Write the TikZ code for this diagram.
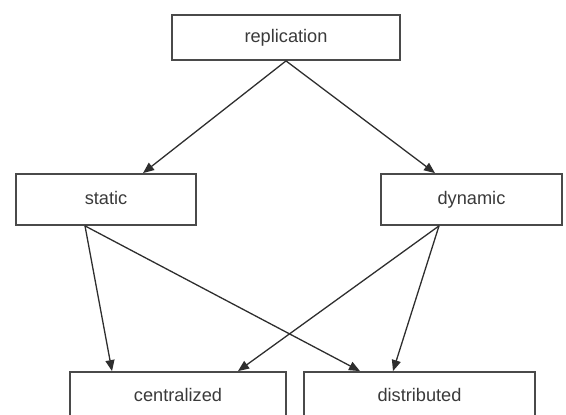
\documentclass[tikz,border=0pt]{standalone}
\usepackage{fontspec}
\setmainfont{Liberation Sans}
\usetikzlibrary{arrows.meta,positioning}
\definecolor{boxgray}{HTML}{4A4A4A}
\definecolor{textgray}{HTML}{3A3A3A}
\definecolor{linedark}{HTML}{2E2E2E}
\tikzset{
  kind/.style={
    rectangle,
    draw=boxgray,
    line width=1.8pt,
    fill=white,
    text=textgray,
    inner sep=0pt,
    text height=12.5pt,
    text depth=3.5pt,
    font=\fontsize{18.2}{22}\selectfont
  },
  arrow/.style={-{Triangle[length=11pt,width=9pt]},line width=1.3pt,draw=linedark}
}

\begin{document}
\begin{tikzpicture}[x=1pt,y=-1pt]
    \useasboundingbox (0,0) rectangle (566,415);
    \node[kind,minimum width=228pt,minimum height=45pt] (repl) at (286,37.5) {replication};
    \node[kind,minimum width=180pt,minimum height=51pt] (static) at (106,199.5) {static};
    \node[kind,minimum width=181pt,minimum height=51pt] (dynamic) at (471.5,199.5) {dynamic};
    \node[kind,minimum width=216pt,minimum height=50pt] (central) at (178,397) {centralized};
    \node[kind,minimum width=231pt,minimum height=50pt] (distrib) at (419.5,397) {distributed};

    \draw[arrow] (repl.south) -- ([xshift=37pt]static.north);
    \draw[arrow] (repl.south) -- ([xshift=-36.5pt]dynamic.north);
    \draw[arrow] ([xshift=-21pt]static.south) -- ([xshift=-66pt]central.north);
    \draw[arrow] ([xshift=-21pt]static.south) -- ([xshift=-59.5pt]distrib.north);
    \draw[arrow] ([xshift=-32.5pt]dynamic.south) -- ([xshift=60pt]central.north);
    \draw[arrow] ([xshift=-32.5pt]dynamic.south) -- ([xshift=-26.5pt]distrib.north);
  \end{tikzpicture}
\end{document}
